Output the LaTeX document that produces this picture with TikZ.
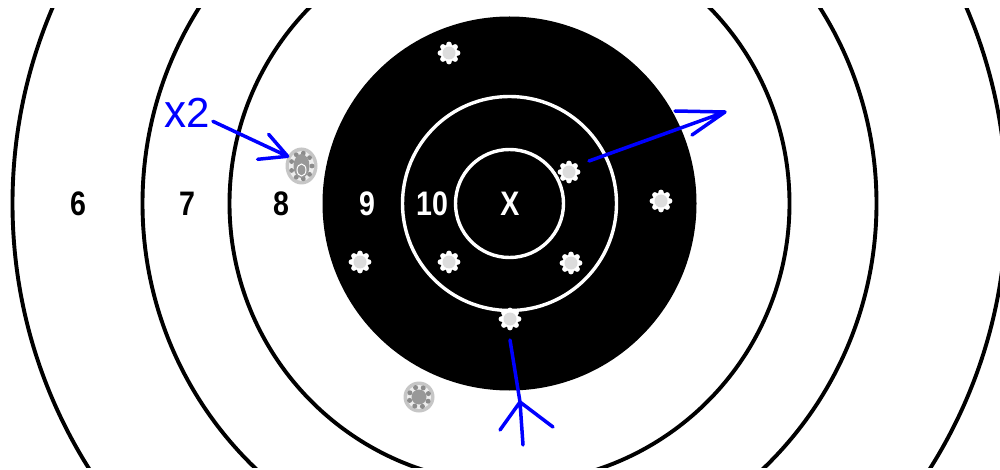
\documentclass[tikz,border=0pt]{standalone}
\usepackage{fontspec}
\setmainfont{Liberation Sans}
\newfontfamily\numfont[FakeStretch=0.84]{Liberation Sans}
\usetikzlibrary{shapes.geometric}
\definecolor{holegray}{HTML}{DCDCDC}
\definecolor{ghole}{HTML}{C6C6C6}
\definecolor{gring}{HTML}{EEEEEE}
\definecolor{gbump}{HTML}{8C8C8C}
\definecolor{gcore}{HTML}{989898}
\begin{document}
\begin{tikzpicture}[x=1pt,y=-1pt,
  ring/.style={draw=black,line width=3.9pt},
  wring/.style={draw=white,line width=3.4pt},
  lbl/.style={font=\numfont\bfseries\fontsize{34}{36}\selectfont,inner sep=0pt},
  blk/.style={lbl,text=black},
  wht/.style={lbl,text=white},
  pen/.style={draw=blue,line width=3.5pt,line cap=round,line join=round},
  core/.style={circle,fill=holegray,minimum size=13pt,inner sep=0pt},
]
\useasboundingbox (0,0) rectangle (1000,470);
\fill[white] (0,0) rectangle (1000,470);
\coordinate (c) at (509.5,203.5);
\begin{scope}
  \clip (0,9) rectangle (1000,467);
  \draw[ring] (c) circle[radius=497pt];
  \draw[ring] (c) circle[radius=367pt];
  \draw[ring] (c) circle[radius=280pt];
  \fill[black] (c) circle[radius=187pt];
  \draw[wring] (c) circle[radius=107pt];
  \draw[wring] (c) circle[radius=54pt];
\end{scope}
% labels
\node[blk] (l6) at (78,204) {6};
\node[blk] (l7) at (187,204) {7};
\node[blk] (l8) at (281,204) {8};
\node[wht] (l9) at (367,204) {9};
\node[wht] (l10) at (432,204) {10};
\node[wht] (lx) at (510,204) {X};
% holes in the black
\foreach \n/\x/\y in {h1/449/53,h2/569/172,h3/661/201,h4/360/262,h5/449/262,h6/571/263,h7/510/319}{
  \fill[white] (\x,\y) circle[radius=8.5pt];
  \foreach \a in {0,45,...,315} \fill[white] (\x,\y) ++(\a:8.6pt) circle[radius=2.8pt];
  \node[core] (\n) at (\x,\y) {};
}
% grey holes on white
\node[ellipse,fill=ghole,minimum width=32pt,minimum height=37pt,inner sep=0pt] (g1) at (301.5,166) {};
\fill[gring] (g1.center) ellipse[x radius=12.5pt,y radius=15pt];
\foreach \a in {0,40,...,320} \fill[gbump] (g1.center) ++(\a:10.5pt and 13pt) circle[radius=2.4pt];
\fill[gcore] (g1.center) ellipse[x radius=8pt,y radius=12pt];
\draw[white,line width=1pt] (301.5,170) ellipse[x radius=4.5pt,y radius=6pt];
\node[circle,fill=ghole,minimum size=31pt,inner sep=0pt] (g2) at (419,397) {};
\fill[gring] (g2.center) circle[radius=12pt];
\foreach \a in {20,65,...,335} \fill[gbump] (g2.center) ++(\a:10pt) circle[radius=2.5pt];
\fill[gcore] (g2.center) circle[radius=7.5pt];
% annotations
\node[text=blue,font=\fontsize{42}{46}\selectfont,inner sep=0pt,anchor=base] (x2) at (187,128) {\scalebox{1.05}[1.12]{x}2};
\draw[pen] ([xshift=3pt,yshift=-8pt]x2.east) -- (g1.145) -- ++(-19,-22) (g1.145) -- ++(-30,3);
\coordinate (urtip) at (725,112);
\draw[pen] ([xshift=20pt,yshift=11pt]h2.center) -- (urtip) -- ++(-50,-1) (urtip) -- ++(-33,23);
\coordinate (fv) at (520,402);
\coordinate (tail) at (523,445);
\draw[pen] ([yshift=-21pt]h7.center) -- (fv) -- (tail) (fv) -- ++(-20,28) (fv) -- ++(33,25);
\end{tikzpicture}
\end{document}
